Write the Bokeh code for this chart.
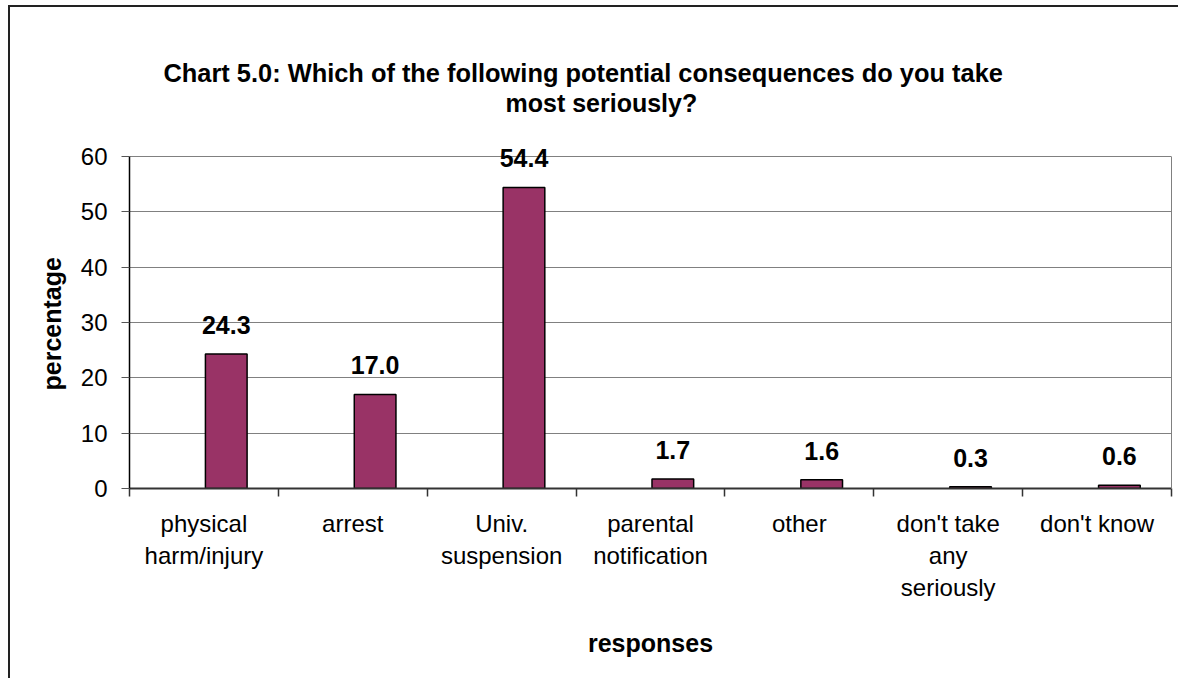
from bokeh.plotting import figure
from bokeh.models import Range1d, FixedTicker, Title, ColumnDataSource, LinearAxis
from bokeh.transform import dodge
from bokeh.core.properties import value
from bokeh.embed import file_html
from bokeh.resources import INLINE

# ---- data ----
categories = ["physical\nharm/injury", "arrest", "Univ.\nsuspension",
              "parental\nnotification", "other", "don't take\nany\nseriously",
              "don't know"]
percentages = [24.3, 17.0, 54.4, 1.7, 1.6, 0.3, 0.6]
y_ticks = [0, 10, 20, 30, 40, 50, 60]
title_lines = ["Chart 5.0: Which of the following potential consequences do you take",
               "most seriously?"]
x_title = "responses"
y_title = "percentage"

FONT = "Liberation Sans"
BAR = "#993366"
Y_MAX = 60

# layout: the plotting area for 0..60 is 332 px tall; the frame is made a bit
# taller (head-room above 60) so that the value label of the tallest bar is not clipped
AXIS_PX = 332
FRAME_PX = 365
y_end = Y_MAX * FRAME_PX / AXIS_PX

n = len(categories)
centers = [i + 0.5 for i in range(n)]
bounds = list(range(n + 1))
src = ColumnDataSource(dict(x=centers, y=percentages,
                            label=[f"{v:.1f}" for v in percentages]))

p = figure(width=1170, height=673, x_range=Range1d(0, n), y_range=Range1d(0, y_end),
           output_backend="svg", toolbar_location=None,
           min_border_left=119, min_border_right=9,
           min_border_top=673 - 192 - FRAME_PX, min_border_bottom=192)
p.styles = {"margin-left": "8px", "margin-top": "5px",
            "border-left": "2px solid #222222", "border-top": "2px solid #222222"}
p.background_fill_color = "white"
p.border_fill_color = "white"
p.outline_line_color = None

p.vbar(x=dodge("x", 0.15), top="y", width=0.28, source=src,
       fill_color=BAR, line_color="black", line_width=1.5)
p.text(x=dodge("x", 0.15), y="y", text="label", source=src,
       text_align="center", text_baseline="alphabetic", y_offset=-29,
       text_font=value(FONT), text_font_style="bold", text_font_size="25px",
       text_color="black")

# grid
p.xgrid.grid_line_color = None
p.ygrid.ticker = FixedTicker(ticks=y_ticks)
p.ygrid.grid_line_color = "#808080"
p.ygrid.grid_line_width = 1

# x axis
xa = p.xaxis[0]
xa.ticker = FixedTicker(ticks=centers, minor_ticks=bounds)
xa.major_label_overrides = {c: lab for c, lab in zip(centers, categories)}
xa.major_tick_out = 0
xa.major_tick_in = 0
xa.minor_tick_out = 8
xa.minor_tick_in = 0
xa.minor_tick_line_color = "#333333"
xa.minor_tick_line_width = 1.5
xa.axis_line_color = "#333333"
xa.axis_line_width = 2
xa.major_label_standoff = 13
xa.major_label_text_font = FONT
xa.major_label_text_font_size = "24px"
xa.major_label_text_color = "black"
xa.axis_label = x_title
xa.axis_label_text_font = FONT
xa.axis_label_text_font_style = "bold"
xa.axis_label_text_font_size = "25px"
xa.axis_label_text_color = "black"
xa.axis_label_standoff = 25

# y axis
ya = p.yaxis[0]
ya.bounds = (0, Y_MAX)
ya.ticker = FixedTicker(ticks=y_ticks)
ya.major_tick_out = 8
ya.major_tick_in = 0
ya.minor_tick_line_color = None
ya.major_tick_line_color = "#555555"
ya.axis_line_color = "black"
ya.axis_line_width = 1.5
ya.major_label_standoff = 14
ya.major_label_text_font = FONT
ya.major_label_text_font_size = "24px"
ya.major_label_text_color = "black"

# y-axis title, placed beside the 0..60 span (not centred on the taller frame)
p.add_layout(Title(text=y_title, align="left", offset=98, vertical_align="bottom",
                   standoff=24, text_font=FONT, text_font_style="bold",
                   text_font_size="25px", text_color="black"), "left")

# right edge of the plotting area (grey line from 0 to 60, no ticks/labels)
ra = LinearAxis(bounds=(0, Y_MAX), ticker=FixedTicker(ticks=[]),
                major_tick_out=0, major_tick_in=0, minor_tick_out=0, minor_tick_in=0,
                major_label_standoff=0, major_label_text_font_size="0px",
                axis_line_color="#808080", axis_line_width=1)
p.add_layout(ra, "right")

# title: spacer + two left-offset lines (closest to the frame first)
p.add_layout(Title(text=" ", text_font_size="1px", standoff=4), "above")
p.add_layout(Title(text=title_lines[1], align="left", offset=376, standoff=0,
                   text_font=FONT, text_font_style="bold",
                   text_font_size="25px", text_color="black"), "above")
p.add_layout(Title(text=title_lines[0], align="left", offset=34, standoff=0,
                   text_font=FONT, text_font_style="bold",
                   text_font_size="25.4px", text_color="black"), "above")

open("out.html", "w").write(file_html(p, INLINE))
